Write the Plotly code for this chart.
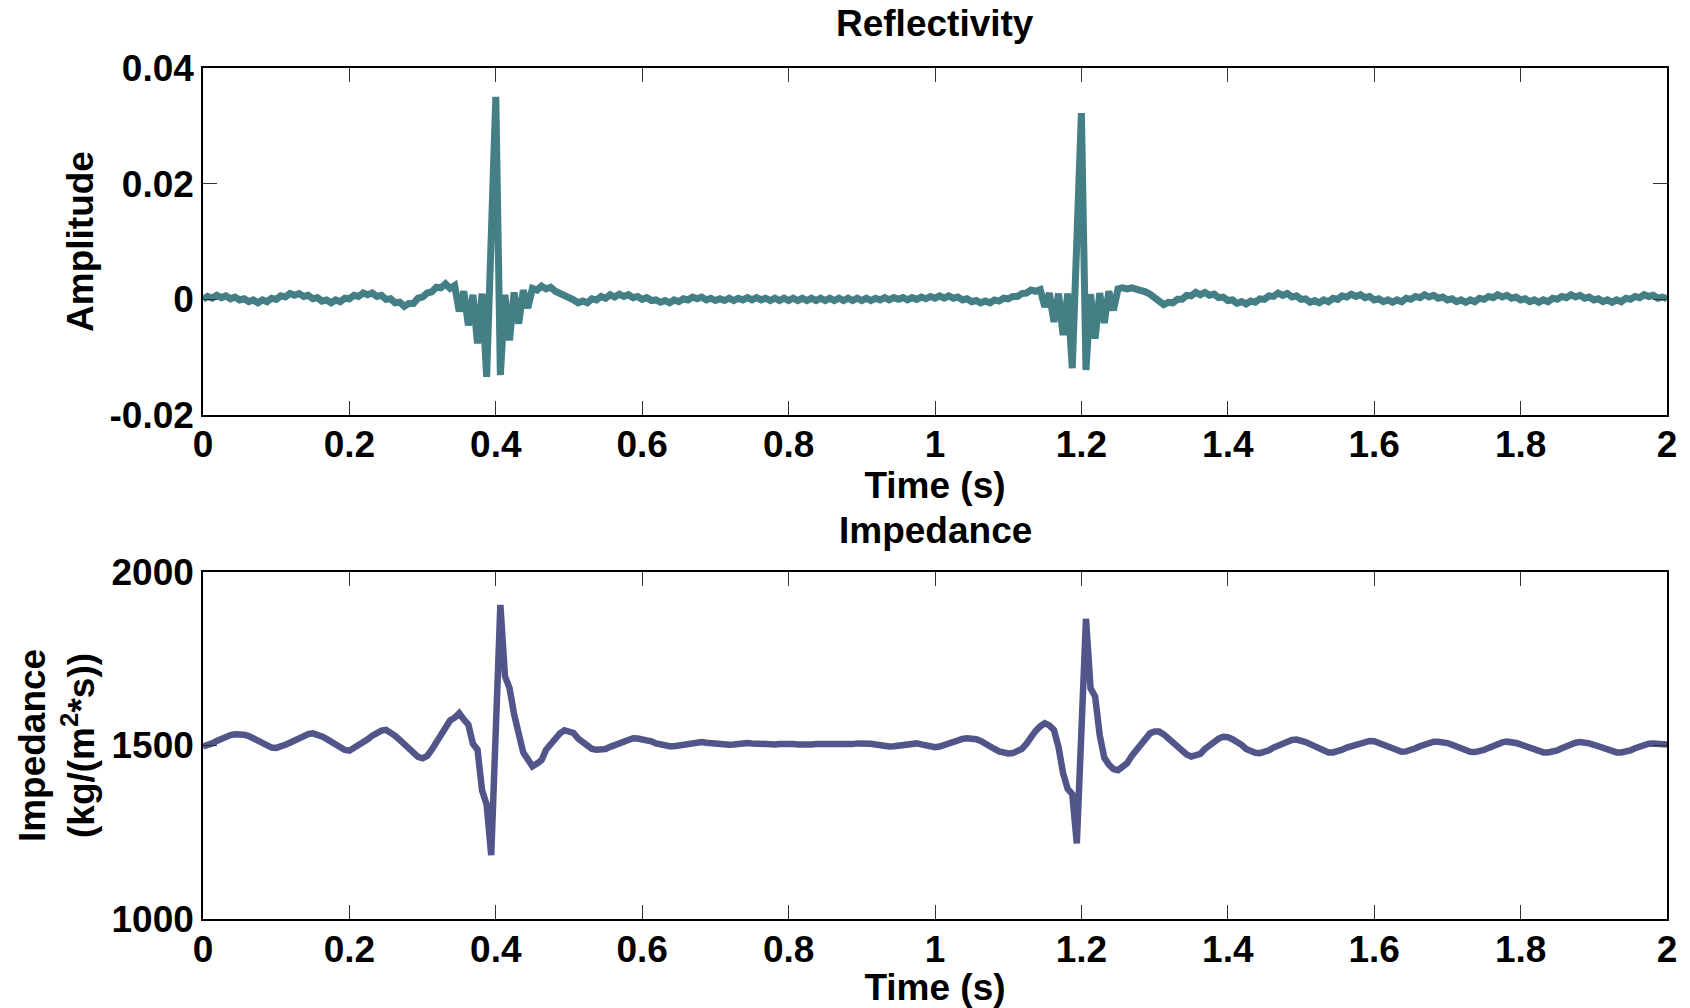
import plotly.graph_objects as go

# Sampling interval of both traces (seconds)
sample_interval_s = 0.00625

# Reflectivity amplitude, in units of 1e-4 (one row = 0.1 s)
amplitude_1e4 = [
    0, 5, 2, 7, 3, 6, 1, 4, -1, 1, -4, -1, -6, -1, -4, 2,
    0, 6, 4, 10, 7, 10, 5, 7, 1, 3, -3, -1, -6, -1, -4, 2,
    1, 7, 5, 11, 8, 11, 5, 7, 0, 1, -6, -5, -12, -7, -7, 2,
    4, 11, 13, 21, 20, 27, 19, 24, -21, 14, -45, 8, -76, 10, -134, 110,
    350, -131, 8, -71, 12, -42, 16, -15, 19, 16, 23, 18, 21, 14, 11, 5,
    3, -1, -6, -3, -6, 1, -1, 5, 2, 8, 4, 9, 5, 8, 3, 5,
    0, 3, -2, -1, -5, -2, -6, -1, -4, 1, -1, 4, 1, 4, -1, 2,
    -2, 1, -2, 2, -2, 2, -1, 3, -1, 3, -1, 2, -2, 2, -2, 2,
    -2, 2, -2, 2, -2, 2, -2, 2, -2, 2, -2, 2, -2, 2, -2, 2,
    -2, 2, -2, 2, -1, 3, -1, 3, 0, 3, -1, 3, 0, 4, 1, 5,
    2, 6, 2, 6, 2, 4, -1, 1, -4, -2, -6, -3, -6, -1, -3, 2,
    1, 5, 5, 10, 11, 16, 14, 17, -13, 11, -39, 10, -62, 10, -119, 100,
    322, -122, 9, -68, 11, -41, 14, -19, 18, 20, 18, 20, 18, 17, 13, 9,
    2, -2, -9, -5, -6, 0, 0, 7, 6, 12, 8, 12, 7, 9, 3, 4,
    -2, -1, -7, -4, -8, -3, -5, 1, 0, 6, 5, 11, 7, 10, 4, 6,
    0, 1, -5, -2, -6, -1, -4, 2, 0, 6, 4, 9, 5, 8, 3, 5,
    -1, 1, -4, -1, -5, -1, -4, 2, 0, 5, 3, 8, 4, 7, 2, 4,
    -1, 1, -4, -1, -5, -1, -4, 2, 0, 5, 3, 8, 4, 7, 2, 4,
    -1, 1, -4, -1, -5, -1, -4, 2, 0, 5, 3, 8, 4, 7, 2, 4,
    -1, 1, -4, -1, -5, -1, -4, 2, 0, 5, 3, 8, 5, 7, 2, 4,
    1,
]

# Acoustic impedance, kg/(m^2*s) (one row = 0.1 s)
impedance = [
    1497, 1500, 1506, 1513, 1520, 1526, 1530, 1532, 1533, 1531, 1527, 1521, 1515, 1507, 1499, 1494,
    1493, 1496, 1502, 1508, 1515, 1522, 1528, 1533, 1535, 1532, 1526, 1519, 1512, 1502, 1493, 1487,
    1485, 1492, 1503, 1511, 1518, 1528, 1538, 1543, 1545, 1538, 1528, 1516, 1505, 1492, 1478, 1467,
    1463, 1470, 1488, 1508, 1530, 1552, 1572, 1580, 1593, 1575, 1560, 1505, 1488, 1370, 1330, 1184,
    1600, 1905, 1700, 1665, 1590, 1525, 1480, 1460, 1440, 1448, 1458, 1488, 1505, 1525, 1535, 1544,
    1542, 1536, 1520, 1510, 1498, 1490, 1488, 1487, 1490, 1496, 1502, 1508, 1514, 1518, 1521, 1520,
    1518, 1515, 1512, 1506, 1502, 1499, 1498, 1498, 1500, 1503, 1506, 1509, 1510, 1510, 1508, 1506,
    1505, 1503, 1502, 1502, 1503, 1505, 1506, 1507, 1506, 1505, 1503, 1502, 1502, 1503, 1504, 1505,
    1505, 1504, 1503, 1502, 1502, 1503, 1504, 1504, 1504, 1503, 1502, 1501, 1501, 1502, 1504, 1506,
    1507, 1507, 1505, 1503, 1500, 1498, 1497, 1498, 1500, 1503, 1506, 1507, 1506, 1503, 1499, 1496,
    1495, 1497, 1502, 1507, 1512, 1516, 1519, 1521, 1521, 1518, 1513, 1507, 1499, 1490, 1483, 1479,
    1477, 1478, 1482, 1490, 1505, 1525, 1542, 1555, 1564, 1558, 1545, 1495, 1420, 1375, 1360, 1218,
    1560, 1865, 1665, 1641, 1530, 1465, 1445, 1432, 1429, 1440, 1449, 1470, 1487, 1505, 1522, 1535,
    1540, 1540, 1532, 1520, 1506, 1494, 1482, 1474, 1468, 1470, 1476, 1490, 1502, 1512, 1520, 1525,
    1524, 1518, 1512, 1502, 1490, 1482, 1479, 1478, 1480, 1486, 1494, 1500, 1506, 1512, 1516, 1517,
    1515, 1510, 1504, 1497, 1490, 1484, 1480, 1480, 1482, 1488, 1494, 1498, 1504, 1509, 1512, 1513,
    1512, 1507, 1500, 1494, 1488, 1484, 1482, 1483, 1486, 1492, 1498, 1504, 1508, 1511, 1511, 1510,
    1507, 1502, 1496, 1490, 1485, 1482, 1481, 1483, 1487, 1493, 1499, 1505, 1509, 1511, 1510, 1507,
    1503, 1498, 1492, 1486, 1482, 1480, 1480, 1482, 1486, 1492, 1498, 1504, 1508, 1510, 1509, 1506,
    1502, 1497, 1491, 1486, 1482, 1480, 1480, 1482, 1486, 1492, 1497, 1502, 1505, 1506, 1505, 1504,
    1503,
]

x_tick_vals = [0, 0.2, 0.4, 0.6, 0.8, 1, 1.2, 1.4, 1.6, 1.8, 2]
x_tick_text = ["0", "0.2", "0.4", "0.6", "0.8", "1", "1.2", "1.4", "1.6", "1.8", "2"]
amp_tick_vals = [-0.02, 0, 0.02, 0.04]
amp_tick_text = ["-0.02", "0", "0.02", "0.04"]
imp_tick_vals = [1000, 1500, 2000]
imp_tick_text = ["1000", "1500", "2000"]

time_s = [round(i * sample_interval_s, 6) for i in range(len(amplitude_1e4))]
amplitude = [v * 1e-4 for v in amplitude_1e4]

FONT = "Liberation Sans, Arial, sans-serif"

fig = go.Figure()
fig.add_trace(go.Scatter(x=time_s, y=amplitude, mode="lines",
                         line=dict(color="#457F86", width=7),
                         xaxis="x", yaxis="y", showlegend=False))
fig.add_trace(go.Scatter(x=time_s, y=impedance, mode="lines",
                         line=dict(color="#525589", width=6.5),
                         xaxis="x2", yaxis="y2", showlegend=False))

axis_common = dict(
    showline=True, linecolor="black", linewidth=1.5, mirror="ticks",
    ticks="inside", ticklen=14, tickwidth=1, tickcolor="#333333",
    showgrid=False, zeroline=False,
    tickfont=dict(family=FONT, size=37, color="black", weight="bold"),
)

fig.update_layout(
    width=1690, height=1008,
    margin=dict(l=203, r=23, t=68, b=89),
    paper_bgcolor="white", plot_bgcolor="white",
    font=dict(family=FONT, size=37, color="black", weight="bold"),
    xaxis=dict(domain=[0, 1], anchor="y", range=[0, 2],
               tickvals=x_tick_vals, ticktext=x_tick_text, ticklabelstandoff=-4,
               title=dict(text="Time (s)", standoff=0,
                          font=dict(family=FONT, size=37, weight="bold")),
               **axis_common),
    yaxis=dict(domain=[0.5922, 1], anchor="x", range=[-0.02, 0.04],
               tickvals=amp_tick_vals, ticktext=amp_tick_text,
               title=dict(text="Amplitude", standoff=5,
                          font=dict(family=FONT, size=37, weight="bold")),
               **axis_common),
    xaxis2=dict(domain=[0, 1], anchor="y2", range=[0, 2],
                tickvals=x_tick_vals, ticktext=x_tick_text, ticklabelstandoff=-3,
                title=dict(text="Time (s)", standoff=0,
                           font=dict(family=FONT, size=37, weight="bold")),
                **axis_common),
    yaxis2=dict(domain=[0, 0.4078], anchor="x2", range=[1000, 2000],
                tickvals=imp_tick_vals, ticktext=imp_tick_text,
                title=dict(text="Impedance<br>(kg/(m<sup>2</sup>*s))", standoff=6,
                           font=dict(family=FONT, size=37, weight="bold")),
                **axis_common),
    annotations=[
        dict(text="Reflectivity", xref="paper", yref="paper", x=0.5, y=1.052,
             xanchor="center", yanchor="middle", showarrow=False,
             font=dict(family=FONT, size=37, color="black", weight="bold")),
        dict(text="Impedance", xref="paper", yref="paper", x=0.5, y=0.457,
             xanchor="center", yanchor="middle", showarrow=False,
             font=dict(family=FONT, size=37, color="black", weight="bold")),
    ],
)

fig.write_html("out.html")
